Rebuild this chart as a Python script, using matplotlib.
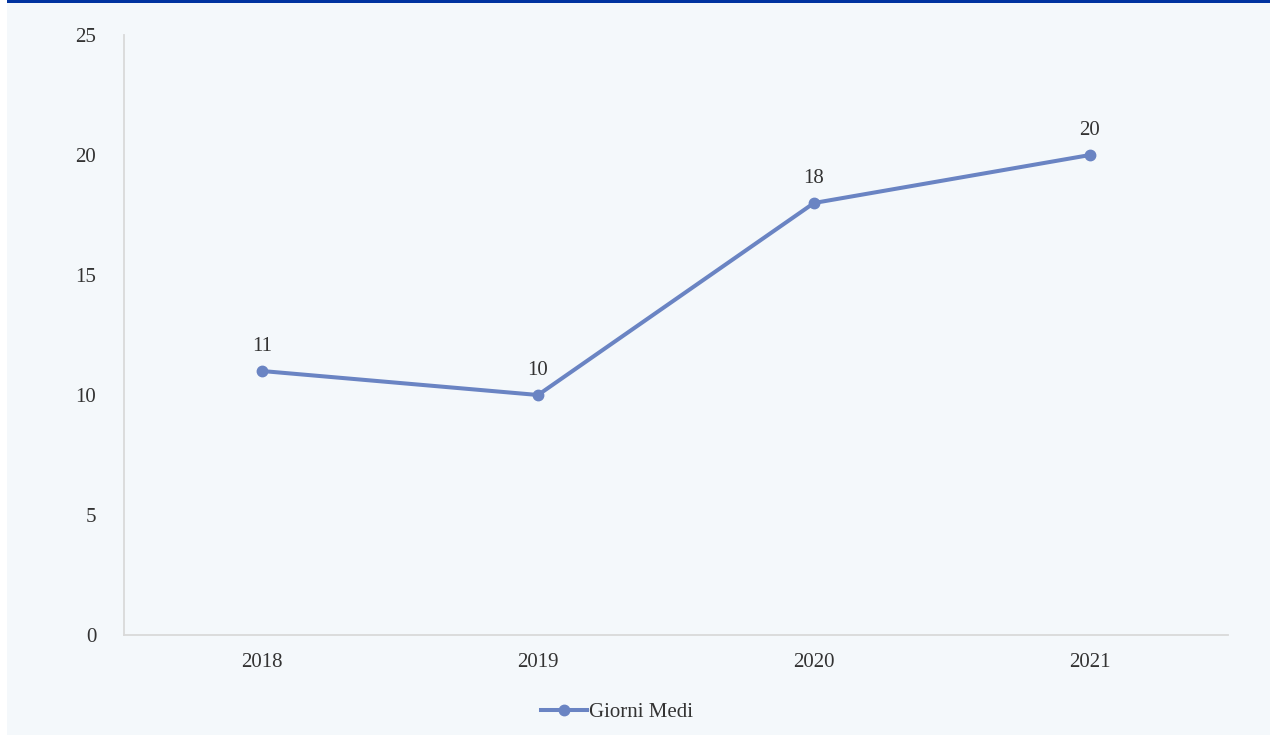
import matplotlib
matplotlib.use("Agg")
from matplotlib import pyplot as plt
from matplotlib.patches import Rectangle

years = ["2018", "2019", "2020", "2021"]
giorni_medi = [11, 10, 18, 20]
y_ticks = [0, 5, 10, 15, 20, 25]

bg = "#F4F8FB"
line_color = "#6A84C3"
text_color = "#333333"

plt.rcParams["font.family"] = ["Liberation Serif", "DejaVu Serif"]

fig = plt.figure(figsize=(12.75, 7.35), dpi=100)
fig.patch.set_facecolor("white")

# page background, white strips at the sides, blue rule on top
fig.add_artist(Rectangle((7 / 1275, 0), 1263 / 1275, 1, transform=fig.transFigure,
                         facecolor=bg, edgecolor="none", zorder=0))
fig.add_artist(Rectangle((7 / 1275, 1 - 3 / 735), 1263 / 1275, 3 / 735, transform=fig.transFigure,
                         facecolor="#0033A0", edgecolor="none", zorder=1))

ax = fig.add_axes([124 / 1275, 1 - 635 / 735, 1104 / 1275, 600 / 735])
ax.set_facecolor("none")

x = list(range(len(years)))
ax.plot(x, giorni_medi, color=line_color, linewidth=2.9, marker="o", markersize=7.5,
        label="Giorni Medi", zorder=3)
for xi, v in zip(x, giorni_medi):
    ax.annotate(str(v), (xi, v), xytext=(0, 11), textcoords="offset points",
                ha="center", va="bottom", fontsize=15, color=text_color)

ax.set_xlim(-0.5, 3.5)
ax.set_ylim(0, 25)
ax.set_xticks(x)
ax.set_xticklabels(years)
ax.set_yticks(y_ticks)
ax.tick_params(axis="both", length=0, labelsize=15, labelcolor=text_color)
ax.tick_params(axis="x", pad=13)
ax.tick_params(axis="y", pad=20)

for s in ["top", "right"]:
    ax.spines[s].set_visible(False)
for s in ["left", "bottom"]:
    ax.spines[s].set_color("#D9D9D9")
    ax.spines[s].set_linewidth(1.3)

fig.legend(*ax.get_legend_handles_labels(), loc="center",
           bbox_to_anchor=(617 / 1275, 1 - 712 / 735), frameon=False, fontsize=15,
           handlelength=2.2, handletextpad=0.1, labelcolor=text_color)

fig.savefig("out.png", dpi=100, facecolor=fig.get_facecolor())
